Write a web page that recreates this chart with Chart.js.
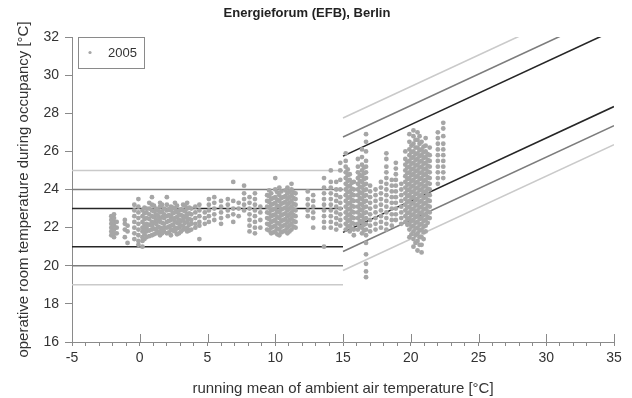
<!DOCTYPE html>
<html>
<head>
<meta charset="utf-8">
<script src="https://cdn.jsdelivr.net/npm/chart.js@4.4.0/dist/chart.umd.min.js"></script>
<style>
html, body { margin: 0; padding: 0; background: #fff; }
</style>
</head>
<body>
<canvas id="chart" width="632" height="398"></canvas>
<script>
const columnX = [
    -2.1, -1.9, -1.7, -1.1, -0.9, -0.4, -0.1, 0.2, 0.35, 0.5,
    0.7, 0.9, 1.05, 1.2, 1.35, 1.5, 1.65, 1.8, 2.0, 2.15,
    2.3, 2.45, 2.6, 2.75, 2.9, 3.05, 3.2, 3.35, 3.5, 3.65,
    3.8, 4.1, 4.4, 4.8, 5.1, 5.5, 6.0, 6.5, 6.9, 7.3,
    7.7, 8.1, 8.5, 8.9, 9.4, 9.55, 9.7, 9.85, 10.0, 10.15,
    10.3, 10.45, 10.6, 10.75, 10.9, 11.05, 11.2, 11.35, 11.5, 12.4,
    12.8, 13.6, 14.1, 14.5, 14.8,
    15.2, 15.35, 15.5, 15.65, 15.8, 16.1, 16.25, 16.4, 16.55, 16.7,
    17.0, 17.4, 17.8, 18.2, 18.6, 18.9, 19.3, 19.6, 19.75, 19.9,
    20.05, 20.2, 20.35, 20.5, 20.65, 20.8, 20.95, 21.1, 21.25, 21.4,
    22.0, 22.4
];
const columnY = [
    [21.6, 21.8, 22.0, 22.2, 22.4, 22.6],
    [21.5, 21.7, 21.9, 22.1, 22.3, 22.5, 22.7],
    [21.7, 22.0, 22.3],
    [21.5, 21.9, 22.2, 22.4],
    [21.2, 21.8, 22.1],
    [21.4, 21.7, 22.0, 22.3, 22.6, 22.9, 23.2],
    [21.1, 21.3, 21.6, 21.9, 22.2, 22.5, 22.8, 23.1, 23.5],
    [21.0, 21.3, 21.5, 21.8, 22.0, 22.3, 22.6, 22.9],
    [21.4, 21.65, 21.95, 22.15, 22.45, 22.75, 23.05],
    [21.5, 21.8, 22.0, 22.2, 22.5, 22.8, 23.0],
    [21.55, 21.85, 22.15, 22.45, 22.7, 23.0, 23.3],
    [21.6, 21.9, 22.1, 22.3, 22.6, 22.9, 23.2, 23.6],
    [21.65, 21.95, 22.25, 22.55, 22.85, 23.15],
    [21.7, 21.9, 22.2, 22.4, 22.7, 23.0],
    [21.75, 22.05, 22.35, 22.6, 22.9],
    [21.6, 21.8, 22.0, 22.3, 22.5, 22.8, 23.1, 23.3],
    [21.7, 21.95, 22.25, 22.55, 22.85, 23.2],
    [21.8, 22.0, 22.2, 22.5, 22.7, 23.0],
    [21.7, 22.0, 22.3, 22.6, 22.9, 23.2, 23.6],
    [21.75, 22.05, 22.35, 22.65, 22.95],
    [21.6, 21.9, 22.1, 22.4, 22.6, 22.9, 23.1],
    [21.85, 22.15, 22.45, 22.75, 23.05],
    [21.8, 22.0, 22.3, 22.5, 22.8, 23.0, 23.3],
    [21.65, 21.95, 22.25, 22.55, 22.85, 23.15],
    [21.7, 22.0, 22.2, 22.4, 22.7, 22.9],
    [21.8, 22.1, 22.35, 22.65, 22.95],
    [21.9, 22.1, 22.4, 22.6, 22.9, 23.2],
    [21.95, 22.25, 22.55, 22.85, 23.15],
    [21.8, 22.0, 22.3, 22.5, 22.7, 23.0, 23.3],
    [21.85, 22.15, 22.45, 22.75, 23.05],
    [21.9, 22.2, 22.4, 22.7, 23.0],
    [22.0, 22.2, 22.5, 22.8, 23.1],
    [21.4, 22.1, 22.3, 22.6, 22.9, 23.2],
    [22.2, 22.5, 22.8],
    [22.3, 22.6, 22.9, 23.2, 23.5],
    [22.4, 22.7, 23.0, 23.3, 23.6],
    [22.2, 22.5, 22.8, 23.1, 23.4],
    [22.6, 22.9, 23.2, 23.5],
    [22.3, 22.7, 23.0, 23.4, 24.4],
    [22.6, 23.0, 23.3],
    [22.9, 23.2, 23.5, 23.8, 24.2],
    [21.8, 22.1, 22.4, 22.7, 23.0, 23.3, 23.6],
    [21.7, 22.0, 22.3, 22.6, 22.9, 23.2, 23.5, 23.8],
    [22.0, 22.4, 22.8, 23.1],
    [21.9, 22.2, 22.5, 22.8, 23.1, 23.4, 23.7],
    [21.85, 22.15, 22.45, 22.75, 23.05, 23.35, 23.65, 23.95],
    [21.7, 22.0, 22.3, 22.6, 22.9, 23.2, 23.5, 23.8],
    [21.75, 22.05, 22.35, 22.65, 22.95, 23.25, 23.55],
    [21.8, 22.1, 22.4, 22.7, 23.0, 23.3, 23.6, 24.0, 24.6],
    [21.65, 21.95, 22.25, 22.55, 22.85, 23.15, 23.45, 23.85],
    [21.6, 21.9, 22.2, 22.5, 22.8, 23.1, 23.4, 23.7, 24.1],
    [21.75, 22.05, 22.35, 22.65, 22.95, 23.25, 23.55, 23.9],
    [21.8, 22.1, 22.4, 22.7, 23.0, 23.3, 23.6],
    [21.85, 22.15, 22.45, 22.75, 23.05, 23.35, 23.65, 23.95],
    [21.7, 22.0, 22.3, 22.6, 22.9, 23.2, 23.5, 23.8, 24.1],
    [21.8, 22.1, 22.4, 22.7, 23.0, 23.3, 23.6, 23.9],
    [21.9, 22.2, 22.5, 22.8, 23.1, 23.4, 23.7, 24.0, 24.3],
    [22.05, 22.35, 22.65, 22.95, 23.25, 23.55, 23.85],
    [22.0, 22.3, 22.6, 22.9, 23.2, 23.5, 23.8],
    [22.6, 22.9, 23.2, 23.5, 23.9],
    [22.0, 22.5, 22.8, 23.1, 23.4, 23.7],
    [21.0, 22.0, 22.3, 22.6, 22.9, 23.2, 23.5, 23.8, 24.1, 24.6],
    [22.0, 22.3, 22.6, 22.9, 23.2, 23.5, 23.8, 24.1, 24.4, 25.0],
    [21.9, 22.2, 22.5, 22.8, 23.1, 23.4, 23.7, 24.0, 24.4],
    [22.1, 22.4, 22.7, 23.0, 23.3, 23.6, 24.0, 24.5, 25.0, 25.4],
    [21.9, 22.2, 22.5, 22.8, 23.1, 23.4, 23.7, 24.0, 24.3, 24.6, 24.9, 25.2, 25.5, 25.9],
    [22.05, 22.35, 22.65, 22.95, 23.25, 23.55, 23.85, 24.15, 24.45, 24.75, 25.05],
    [21.8, 22.1, 22.4, 22.7, 23.0, 23.3, 23.6, 23.9, 24.2, 24.5, 24.8],
    [21.95, 22.25, 22.55, 22.85, 23.15, 23.45, 23.75, 24.05, 24.35],
    [21.6, 21.9, 22.2, 22.5, 22.8, 23.1, 23.4, 23.7, 24.0, 24.4],
    [21.9, 22.2, 22.5, 22.8, 23.1, 23.4, 23.7, 24.0, 24.3, 24.6, 24.9, 25.2, 25.6],
    [22.05, 22.35, 22.65, 22.95, 23.25, 23.55, 23.85, 24.15, 24.45, 24.75],
    [21.7, 22.0, 22.3, 22.6, 22.9, 23.2, 23.5, 23.8, 24.1, 24.4, 24.7, 25.0, 25.3, 25.7, 26.1],
    [21.85, 22.15, 22.45, 22.75, 23.05, 23.35, 23.65, 23.95, 24.25, 24.55, 24.85, 25.15],
    [19.4, 19.7, 20.1, 20.6, 21.2, 21.6, 21.9, 22.2, 22.5, 22.8, 23.1, 23.4, 23.7, 24.0, 24.3, 24.6, 24.9, 25.2, 25.5, 26.0, 26.5, 26.9],
    [21.8, 22.1, 22.4, 22.7, 23.0, 23.3, 23.6, 23.9, 24.2],
    [21.9, 22.2, 22.5, 22.8, 23.1, 23.4, 23.7, 24.0],
    [22.0, 22.3, 22.6, 22.9, 23.2, 23.5, 23.8, 24.1, 24.4],
    [21.9, 22.2, 22.5, 22.8, 23.1, 23.4, 23.7, 24.0, 24.3, 24.6, 24.9, 25.2, 25.6, 25.9],
    [22.1, 22.4, 22.7, 23.0, 23.3, 23.6, 23.9, 24.2, 24.5],
    [22.4, 22.7, 23.0, 23.3, 23.6, 23.9, 24.2, 24.5, 24.8, 25.1, 25.4],
    [22.2, 22.5, 22.8, 23.1, 23.4, 23.7, 24.0, 24.3],
    [22.3, 22.6, 22.9, 23.2, 23.5, 23.8, 24.1, 24.4, 24.7, 25.0, 25.3, 25.6, 26.0],
    [22.15, 22.45, 22.75, 23.05, 23.35, 23.65, 23.95, 24.25, 24.55, 24.85, 25.15, 25.45],
    [21.5, 21.9, 22.2, 22.5, 22.8, 23.1, 23.4, 23.7, 24.0, 24.3, 24.6, 24.9, 25.2, 25.5, 25.8, 26.1, 26.5, 26.9],
    [21.65, 22.05, 22.35, 22.65, 22.95, 23.25, 23.55, 23.85, 24.15, 24.45, 24.75, 25.05, 25.35, 25.65, 25.95, 26.3],
    [21.0, 21.4, 21.8, 22.1, 22.4, 22.7, 23.0, 23.3, 23.6, 23.9, 24.2, 24.5, 24.8, 25.1, 25.4, 25.7, 26.0, 26.4, 26.8, 27.1],
    [21.2, 21.6, 21.95, 22.25, 22.55, 22.85, 23.15, 23.45, 23.75, 24.05, 24.35, 24.65, 24.95, 25.25, 25.55, 25.85, 26.2, 26.6],
    [20.8, 21.3, 21.7, 22.0, 22.3, 22.6, 22.9, 23.2, 23.5, 23.8, 24.1, 24.4, 24.7, 25.0, 25.3, 25.6, 25.9, 26.2, 26.6, 27.0],
    [21.1, 21.5, 21.85, 22.15, 22.45, 22.75, 23.05, 23.35, 23.65, 23.95, 24.25, 24.55, 24.85, 25.15, 25.45, 25.75, 26.05, 26.4, 26.8],
    [20.7, 21.1, 21.5, 21.9, 22.2, 22.5, 22.8, 23.1, 23.4, 23.7, 24.0, 24.3, 24.6, 24.9, 25.2, 25.5, 25.8, 26.1, 26.5],
    [21.4, 21.75, 22.05, 22.35, 22.65, 22.95, 23.25, 23.55, 23.85, 24.15, 24.45, 24.75, 25.05, 25.35, 25.65, 25.95, 26.25],
    [21.8, 22.1, 22.4, 22.7, 23.0, 23.3, 23.6, 23.9, 24.2, 24.5, 24.8, 25.1, 25.4, 25.7, 26.0, 26.3, 26.7],
    [22.25, 22.55, 22.85, 23.15, 23.45, 23.75, 24.05, 24.35, 24.65, 24.95, 25.25, 25.55, 25.85],
    [22.5, 22.8, 23.1, 23.4, 23.7, 24.0, 24.3, 24.6, 24.9, 25.2, 25.5, 25.8, 26.2],
    [24.3, 24.6, 24.9, 25.2, 25.5, 25.8, 26.1, 26.4, 26.7, 27.0],
    [24.6, 24.9, 25.2, 25.5, 25.8, 26.1, 26.4, 26.8, 27.2, 27.5]
];

// comfort limits: fixed band below 15 °C, adaptive band above
const fixedX = [-5, 15];
const fixedLimits = [19, 20, 21, 23, 24, 25];
const adaptiveX = [15, 35];
const adaptiveStart = [19.75, 20.75, 21.75, 25.75, 26.75, 27.75];
const adaptiveEnd = [26.35, 27.35, 28.35, 32.35, 33.35, 34.35];
const limitColors = ['#cacaca', '#7c7c7c', '#262626', '#262626', '#7c7c7c', '#cacaca'];

const xTicks = [-5, 0, 5, 10, 15, 20, 25, 30, 35];

const points = [];
columnX.forEach((x, i) => columnY[i].forEach(y => points.push({ x: x, y: y })));

const datasets = [{
    label: '2005',
    data: points,
    showLine: false,
    pointRadius: 2.4,
    pointBackgroundColor: '#a6a6a6',
    pointBorderWidth: 0,
    pointHoverRadius: 2.4
}];
fixedLimits.forEach((v, i) => {
    datasets.push({
        label: '',
        data: fixedX.map(x => ({ x: x, y: v })),
        showLine: true,
        borderColor: limitColors[i],
        borderWidth: 1.6,
        pointRadius: 0
    });
    datasets.push({
        label: '',
        data: [{ x: adaptiveX[0], y: adaptiveStart[i] }, { x: adaptiveX[1], y: adaptiveEnd[i] }],
        showLine: true,
        borderColor: limitColors[i],
        borderWidth: 1.6,
        pointRadius: 0
    });
});

const boxLegend = {
    id: 'boxLegend',
    afterDraw(chart) {
        const ctx = chart.ctx;
        const a = chart.chartArea;
        const ds = chart.data.datasets[0];
        ctx.save();
        ctx.strokeStyle = '#8a8a8a';
        ctx.lineWidth = 1;
        ctx.strokeRect(a.left + 6.5, a.top + 0.5, 66, 31);
        ctx.fillStyle = ds.pointBackgroundColor;
        ctx.beginPath();
        ctx.arc(a.left + 18, a.top + 15.5, 1.6, 0, Math.PI * 2);
        ctx.fill();
        ctx.fillStyle = '#333';
        ctx.font = '13px "Liberation Sans", Arial, sans-serif';
        ctx.textBaseline = 'middle';
        ctx.fillText(ds.label, a.left + 36, a.top + 16);
        ctx.restore();
    }
};

// major x ticks point into the plot
const innerTicks = {
    id: 'innerTicks',
    afterDraw(chart) {
        const ctx = chart.ctx;
        const sx = chart.scales.x;
        const a = chart.chartArea;
        ctx.save();
        ctx.strokeStyle = '#8a8a8a';
        ctx.lineWidth = 1;
        xTicks.forEach(v => {
            if (v === sx.min) return;
            const px = Math.round(sx.getPixelForValue(v)) + 0.5;
            ctx.beginPath();
            ctx.moveTo(px, a.bottom);
            ctx.lineTo(px, a.bottom - 8);
            ctx.stroke();
        });
        ctx.restore();
    }
};

Chart.defaults.font.family = '"Liberation Sans", Arial, sans-serif';
Chart.defaults.color = '#333';

new Chart(document.getElementById('chart'), {
    type: 'scatter',
    data: { datasets: datasets },
    plugins: [boxLegend, innerTicks],
    options: {
        responsive: false,
        animation: false,
        events: [],
        layout: { padding: { left: 0, right: 18, top: 0, bottom: 0 } },
        plugins: {
            legend: { display: false },
            tooltip: { enabled: false },
            title: {
                display: true,
                text: 'Energieforum (EFB), Berlin',
                font: { size: 13, weight: 'bold' },
                color: '#222',
                padding: { top: 6, bottom: 15.4 }
            }
        },
        scales: {
            x: {
                type: 'linear',
                min: -5,
                max: 35,
                afterFit: s => { s.height = 56; },
                ticks: {
                    stepSize: 1,
                    autoSkip: false,
                    maxRotation: 0,
                    padding: 4,
                    font: { size: 14 },
                    callback: v => (xTicks.includes(v) ? v : '')
                },
                grid: { drawOnChartArea: false, tickLength: 4, color: '#8a8a8a' },
                border: { color: '#8a8a8a', width: 1 },
                title: {
                    display: true,
                    text: 'running mean of ambient air temperature [°C]',
                    font: { size: 15 },
                    padding: { top: 7, bottom: 0 }
                }
            },
            y: {
                min: 16,
                max: 32,
                afterFit: s => { s.width = 72; },
                ticks: { stepSize: 2, padding: 6, font: { size: 14 } },
                grid: { drawOnChartArea: false, tickLength: 7, color: '#8a8a8a' },
                border: { color: '#8a8a8a', width: 1 },
                title: {
                    display: true,
                    text: 'operative room temperature during occupancy [°C]',
                    font: { size: 15 },
                    padding: { top: 15, bottom: 0 }
                }
            }
        }
    }
});
</script>
</body>
</html>
